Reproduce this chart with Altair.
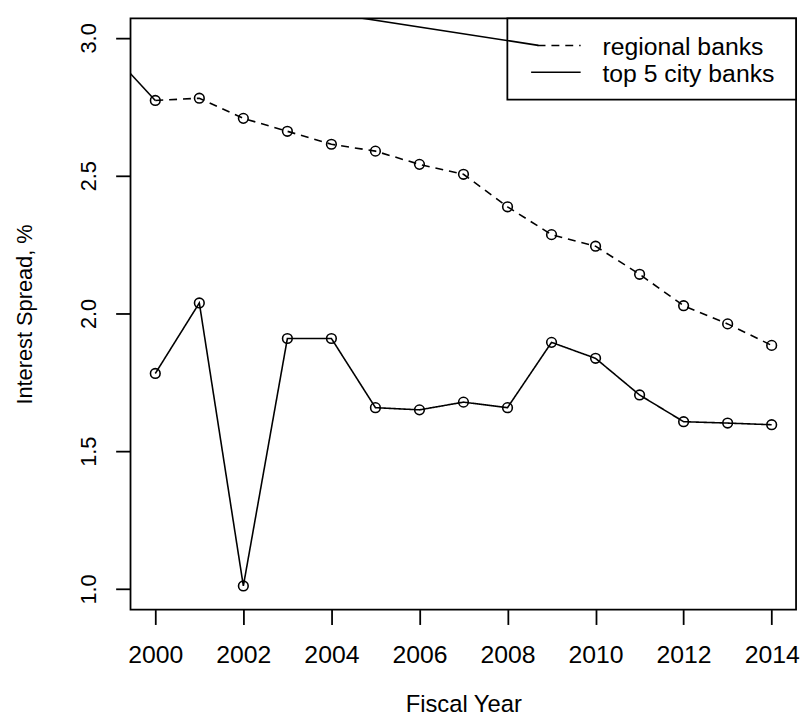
import altair as alt
import pandas as pd

# ---- data ----
years = [2000, 2001, 2002, 2003, 2004, 2005, 2006, 2007, 2008, 2009, 2010, 2011, 2012, 2013, 2014]
regional = [2.773, 2.781, 2.708, 2.661, 2.614, 2.589, 2.541, 2.505, 2.387, 2.286, 2.244, 2.142, 2.028, 1.962, 1.884]
top5 = [1.782, 2.038, 1.011, 1.909, 1.909, 1.658, 1.650, 1.678, 1.658, 1.895, 1.837, 1.704, 1.607, 1.602, 1.596]
series_names = ["regional banks", "top 5 city banks"]

# stray segments visible in the reference (partly clipped by the plot box)
stray_id = ["a", "a", "b", "b"]
stray_x = [1999.0, 2000.0, 2003.5, 2008.70]
stray_y = [2.946, 2.773, 3.101, 2.973]

x_ticks = [2000, 2002, 2004, 2006, 2008, 2010, 2012, 2014]
y_ticks = [1.0, 1.5, 2.0, 2.5, 3.0]
x_domain = [1999.437, 2014.554]
y_domain = [0.925, 3.071]

FONT = "Liberation Sans"
W, H = 672, 597

df = pd.DataFrame({
    "year": years * 2,
    "value": regional + top5,
    "series": [series_names[0]] * len(years) + [series_names[1]] * len(years),
})
stray = pd.DataFrame({"id": stray_id, "x": stray_x, "y": stray_y})

xscale = alt.Scale(domain=x_domain, nice=False, zero=False)
yscale = alt.Scale(domain=y_domain, nice=False, zero=False)
dash = alt.StrokeDash("series:N", scale=alt.Scale(domain=series_names, range=[[8, 6], [1, 0]]), legend=None)

xaxis = alt.Axis(values=x_ticks, format="d", grid=False, domain=False,
                 tickSize=15, tickWidth=1.8, tickColor="black",
                 labelFont=FONT, labelFontSize=25, labelColor="black",
                 labelBaseline="alphabetic", labelPadding=38, labelFlush=False, labelOverlap=False,
                 title="Fiscal Year", titleFont=FONT, titleFontSize=24, titleFontWeight="normal",
                 titleColor="black", titleX=W / 2, titleY=103, titleAlign="center",
                 titleBaseline="alphabetic", titleAnchor="middle")
yaxis = alt.Axis(values=y_ticks, format=".1f", grid=False, domain=False,
                 tickSize=15, tickWidth=1.8, tickColor="black",
                 labelFont=FONT, labelFontSize=22, labelColor="black", labelAngle=270,
                 labelAlign="center", labelBaseline="alphabetic", labelPadding=20,
                 labelFlush=False, labelOverlap=False,
                 title="Interest Spread, %", titleFont=FONT, titleFontSize=22, titleFontWeight="normal",
                 titleColor="black", titleAngle=270, titleX=-100, titleY=H / 2,
                 titleAlign="center", titleBaseline="alphabetic")

base = alt.Chart(df)

lines = base.mark_line(color="black", strokeWidth=1.6, clip=True).encode(
    x=alt.X("year:Q", scale=xscale, axis=xaxis),
    y=alt.Y("value:Q", scale=yscale, axis=yaxis),
    strokeDash=dash,
    detail="series:N",
)
points = base.mark_point(shape="circle", filled=False, size=95, strokeWidth=1.6,
                         color="black", opacity=1, clip=True).encode(
    x=alt.X("year:Q", scale=xscale),
    y=alt.Y("value:Q", scale=yscale),
)
stray_lines = alt.Chart(stray).mark_line(color="black", strokeWidth=1.6, clip=True).encode(
    x=alt.X("x:Q", scale=xscale),
    y=alt.Y("y:Q", scale=yscale),
    detail="id:N",
)

# ---- legend (top-right box), one row of data per legend item ----
legend_box = alt.Chart(pd.DataFrame({"k": [0]})).mark_rect(
    fill="white", stroke="black", strokeWidth=1.8).encode(
    x=alt.value(380.5), x2=alt.value(W), y=alt.value(0), y2=alt.value(82),
)
legend_layers = []
for i, name in enumerate(series_names):
    yy = 27.5 + 27 * i
    one = alt.Chart(pd.DataFrame({"label": [name]}))
    legend_layers.append(
        one.mark_rule(color="black", strokeWidth=1.6,
                      strokeDash=[8, 6] if i == 0 else [1, 0]).encode(
            x=alt.value(411 if i == 0 else 404.5), x2=alt.value(454.5), y=alt.value(yy)
        )
    )
    legend_layers.append(
        one.mark_text(align="left", baseline="middle", font=FONT, fontSize=25, color="black").encode(
            x=alt.value(476.5), y=alt.value(yy + 2), text="label:N"
        )
    )

chart = alt.layer(legend_box, stray_lines, lines, points, *legend_layers).properties(
    width=W, height=H,
    autosize=alt.AutoSizeParams(type="none"),
    padding={"left": 123.7, "top": 7, "right": 6, "bottom": 106},
    background="white",
).configure_view(stroke="black", strokeWidth=1.8)

chart.save("out.html", embed_options={"renderer": "svg", "actions": False})
